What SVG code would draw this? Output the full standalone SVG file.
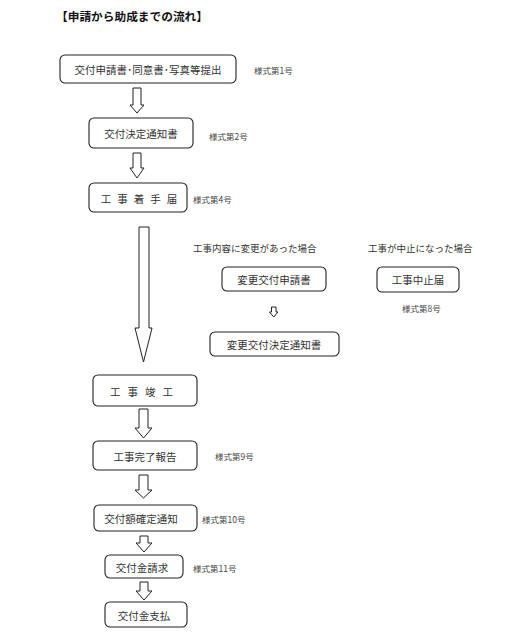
<svg xmlns="http://www.w3.org/2000/svg" width="521" height="638" viewBox="0 0 521 638">
<style>
.bg{fill:#fff}
.box{fill:#fff;stroke:#222;stroke-width:1.1}
.arr{fill:#fff;stroke:#222;stroke-width:1}
.t{font-family:"Noto Sans CJK JP","Noto Sans CJK SC",sans-serif;font-size:10.5px;fill:#333;text-anchor:middle;dominant-baseline:central}
.l{font-family:"Noto Sans CJK JP","Noto Sans CJK SC",sans-serif;font-size:8.5px;fill:#444;dominant-baseline:central}
.c{font-family:"Noto Sans CJK JP","Noto Sans CJK SC",sans-serif;font-size:9.5px;fill:#333;dominant-baseline:central}
.h{font-family:"Noto Sans CJK JP","Noto Sans CJK SC",sans-serif;font-size:11.7px;font-weight:bold;fill:#111;dominant-baseline:central}
</style>
<rect class="bg" x="0" y="0" width="521" height="638"/>
<text class="h" x="56" y="15">【申請から助成までの流れ】</text>

<g id="n1"><rect class="box" x="60" y="55" width="176" height="28" rx="5"/><text class="t" x="148" y="69">交付申請書･同意書･写真等提出</text><text class="l" x="254" y="70">様式第1号</text></g>
<g id="n2"><rect class="box" x="89" y="118" width="104" height="30" rx="5"/><text class="t" x="141" y="133">交付決定通知書</text><text class="l" x="209" y="136">様式第2号</text></g>
<g id="n3"><rect class="box" x="89" y="183" width="98" height="29" rx="5"/><text class="t" x="142" y="198" letter-spacing="6">工事着手届</text><text class="l" x="193" y="199">様式第4号</text></g>
<g id="c1"><text class="c" x="193" y="248">工事内容に変更があった場合</text></g>
<g id="c2"><text class="c" x="368" y="248">工事が中止になった場合</text></g>
<g id="n4"><rect class="box" x="222" y="267" width="104" height="24" rx="5"/><text class="t" x="274" y="279">変更交付申請書</text></g>
<g id="n5"><rect class="box" x="377" y="267" width="82" height="25" rx="5"/><text class="t" x="418" y="279">工事中止届</text><text class="l" x="402" y="308">様式第8号</text></g>
<g id="n6"><rect class="box" x="210" y="332" width="129" height="24" rx="5"/><text class="t" x="274" y="344">変更交付決定通知書</text></g>
<g id="n7"><rect class="box" x="93" y="375" width="104" height="31" rx="5"/><text class="t" x="145" y="391" letter-spacing="7">工事竣工</text></g>
<g id="n8"><rect class="box" x="93" y="441" width="104" height="29" rx="5"/><text class="t" x="145" y="456">工事完了報告</text><text class="l" x="215" y="456">様式第9号</text></g>
<g id="n9"><rect class="box" x="94" y="505" width="103" height="26" rx="5"/><text class="t" x="141" y="518">交付額確定通知</text><text class="l" x="202" y="519">様式第10号</text></g>
<g id="n10"><rect class="box" x="105" y="555" width="78" height="23" rx="5"/><text class="t" x="142" y="567">交付金請求</text><text class="l" x="193" y="568">様式第11号</text></g>
<g id="n11"><rect class="box" x="105" y="602" width="82" height="25" rx="5"/><text class="t" x="144" y="615">交付金支払</text></g>

<g id="connectors">
<path class="arr" d="M133,88 H141 V105 H144 L137,113 L130,105 H133 Z"/>
<path class="arr" d="M133,153 H141 V168 H144 L137,178 L130,168 H133 Z"/>
<path class="arr" d="M139,227 H149 V328 H152 L143.5,362 L135,328 H139 Z"/>
<path class="arr" d="M271.5,307 H276 V312 H278 L273.75,317 L269.5,312 H271.5 Z"/>
<path class="arr" d="M139,409 H148 V428 H152 L143.5,438 L135,428 H139 Z"/>
<path class="arr" d="M139,475 H148 V490 H152 L143.5,498 L135,490 H139 Z"/>
<path class="arr" d="M140,536 H148 V543 H152 L144,552 L136,543 H140 Z"/>
<path class="arr" d="M140,582 H148 V591 H152 L144,600 L136,591 H140 Z"/>
</g>
</svg>
